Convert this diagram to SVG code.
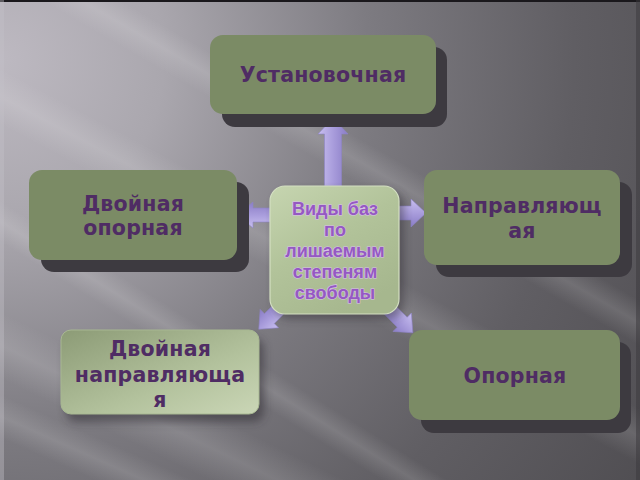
<svg xmlns="http://www.w3.org/2000/svg" width="640" height="480" viewBox="0 0 640 480">
<defs>
<radialGradient id="bg" cx="0" cy="60" r="820" gradientUnits="userSpaceOnUse">
<stop offset="0" stop-color="#bdb9c1"/>
<stop offset="0.2" stop-color="#aaa7ae"/>
<stop offset="0.45" stop-color="#7d7b81"/>
<stop offset="0.7" stop-color="#605e63"/>
<stop offset="1" stop-color="#4c4a4e"/>
</radialGradient>
<linearGradient id="streak" x1="0" y1="0" x2="0" y2="1">
<stop offset="0" stop-color="#ffffff" stop-opacity="0"/>
<stop offset="0.5" stop-color="#ffffff" stop-opacity="0.13"/>
<stop offset="1" stop-color="#ffffff" stop-opacity="0"/>
</linearGradient>
<linearGradient id="light" x1="0" y1="0" x2="1" y2="1">
<stop offset="0" stop-color="#8c9b76"/>
<stop offset="0.6" stop-color="#b3c29d"/>
<stop offset="1" stop-color="#cad6b6"/>
</linearGradient>
<linearGradient id="center" x1="0" y1="0" x2="0.6" y2="1">
<stop offset="0" stop-color="#c6d5b0"/>
<stop offset="0.5" stop-color="#b2c39a"/>
<stop offset="1" stop-color="#a6b78e"/>
</linearGradient>
<linearGradient id="arrowfill" x1="0" y1="0" x2="0" y2="1">
<stop offset="0" stop-color="#c8bff0"/>
<stop offset="0.5" stop-color="#a99ddc"/>
<stop offset="1" stop-color="#8a7dc6"/>
</linearGradient>
<filter id="softer" x="-20%" y="-20%" width="140%" height="140%">
<feGaussianBlur stdDeviation="4"/>
</filter>
</defs>
<style>
.node{fill:#7b8b65;}
.shadow{fill:#3d3a40;}
.label{font-family:"DejaVu Sans",Verdana,sans-serif;font-weight:bold;font-size:20.5px;fill:#4f2c64;text-anchor:middle;letter-spacing:0.2px;}
.clabel{font-family:"Liberation Sans",Arial,sans-serif;font-weight:bold;font-size:18px;fill:#9559c2;text-anchor:middle;stroke:#d7bdec;stroke-width:1.2px;paint-order:stroke;}
.arrow{fill:url(#arrowfill);stroke:#8f84c8;stroke-width:0.6;}
</style>

<!-- background -->
<rect x="0" y="0" width="640" height="480" fill="url(#bg)"/>
<g>
<rect x="-200" y="60" width="1100" height="50" fill="url(#streak)" transform="rotate(28 0 0)"/>
<rect x="-200" y="170" width="1100" height="35" fill="url(#streak)" transform="rotate(32 0 0)"/>
<rect x="-200" y="280" width="1100" height="60" fill="url(#streak)" transform="rotate(26 0 0)"/>
<rect x="-100" y="-60" width="1100" height="40" fill="url(#streak)" transform="rotate(30 0 0)"/>
<rect x="-200" y="360" width="1100" height="40" fill="url(#streak)" transform="rotate(24 0 0)"/>
</g>
<rect x="0" y="0" width="640" height="2" fill="#1a181c"/>
<rect x="0" y="0" width="4" height="480" fill="#c4c0c8" opacity="0.4"/>
<rect x="636" y="0" width="4" height="480" fill="#3a383c" opacity="0.5"/>

<!-- connectors -->
<g id="connectors">
<polygon class="arrow" transform="translate(333 186) rotate(-90)" points="0,-8.5 52,-8.5 52,-15 68,0 52,15 52,8.5 0,8.5"/>
<polygon class="arrow" transform="translate(272 215) rotate(180)" points="0,-7 19,-7 19,-13 35,0 19,13 19,7 0,7"/>
<polygon class="arrow" transform="translate(398 213)" points="0,-7 13,-7 13,-14 28,0 13,14 13,7 0,7"/>
<polygon class="arrow" transform="translate(292 296) rotate(135)" points="0,-7 32,-7 32,-13 47,0 32,13 32,7 0,7"/>
<polygon class="arrow" transform="translate(381 301) rotate(45)" points="0,-7 30,-7 30,-13 45,0 30,13 30,7 0,7"/>
</g>

<!-- nodes -->
<g id="node-top">
<rect class="shadow" x="222" y="47" width="225" height="80" rx="13"/>
<rect class="node" x="210" y="35" width="226" height="79" rx="13"/>
<text class="label" x="323" y="82">Установочная</text>
</g>

<g id="node-left">
<rect class="shadow" x="41" y="182" width="208" height="90" rx="13"/>
<rect class="node" x="29" y="170" width="208" height="90" rx="13"/>
<text class="label" x="133" y="211">Двойная</text>
<text class="label" x="133" y="235">опорная</text>
</g>

<g id="node-right">
<rect class="shadow" x="436" y="182" width="196" height="95" rx="13"/>
<rect class="node" x="424" y="170" width="196" height="95" rx="13"/>
<text class="label" x="522" y="213">Направляющ</text>
<text class="label" x="522" y="238">ая</text>
</g>

<g id="node-bottom-right">
<rect class="shadow" x="421" y="342" width="210" height="91" rx="13"/>
<rect class="node" x="409" y="330" width="211" height="90" rx="13"/>
<text class="label" x="515" y="383">Опорная</text>
</g>

<g id="node-bottom-left">
<rect x="66" y="338" width="198" height="84" rx="10" fill="#2e2c30" opacity="0.5" filter="url(#softer)"/>
<rect x="61" y="330" width="198" height="84" rx="10" fill="url(#light)" stroke="#a8b892" stroke-width="1"/>
<text class="label" x="160" y="356">Двойная</text>
<text class="label" x="160" y="382">направляюща</text>
<text class="label" x="160" y="407">я</text>
</g>

<g id="node-center">
<rect x="274" y="191" width="130" height="128" rx="15" fill="#2e2c30" opacity="0.45" filter="url(#softer)"/>
<rect x="270" y="186" width="129" height="128" rx="15" fill="url(#center)" stroke="#d4e0c2" stroke-width="1.2"/>
<text class="clabel" x="335" y="215">Виды баз</text>
<text class="clabel" x="335" y="236">по</text>
<text class="clabel" x="335" y="257">лишаемым</text>
<text class="clabel" x="335" y="278">степеням</text>
<text class="clabel" x="335" y="299">свободы</text>
</g>
</svg>
